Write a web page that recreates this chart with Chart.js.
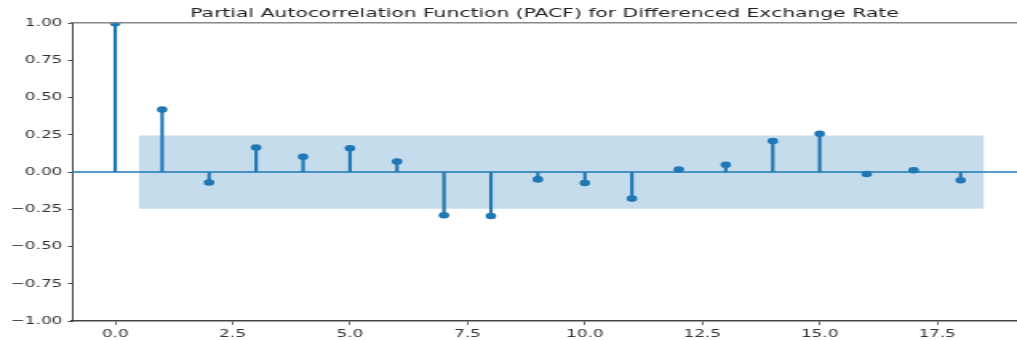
<!DOCTYPE html>
<html>
<head>
<meta charset="utf-8">
<script src="https://cdn.jsdelivr.net/npm/chart.js@4.4.1/dist/chart.umd.min.js"></script>
<style>
  html, body { margin: 0; padding: 0; background: #fff; overflow: hidden; }
  #wrap { width: 1017px; height: 340px; overflow: hidden; }
  /* the reference picture is stretched sideways; draw narrow, then widen */
  #pacf { transform-origin: 0 0; transform: scaleX(1.599); }
</style>
</head>
<body>
<div id="wrap"><canvas id="pacf" width="636" height="340"></canvas></div>
<script>
// ─── DATA ─────────────────────────────────────────────────────
const lags       = [0, 1, 2, 3, 4, 5, 6, 7, 8, 9, 10, 11, 12, 13, 14, 15, 16, 17, 18];
const pacfValues = [1.0, 0.42, -0.07, 0.165, 0.103, 0.16, 0.071, -0.29, -0.295, -0.049,
                    -0.073, -0.178, 0.018, 0.049, 0.209, 0.258, -0.013, 0.013, -0.055];
const bandX      = [0.5, 18.5];
const bandUpper  = [0.246, 0.246];
const bandLower  = [-0.246, -0.246];
const xTicks     = [0, 2.5, 5, 7.5, 10, 12.5, 15, 17.5];
const yTicks     = [-1, -0.75, -0.5, -0.25, 0, 0.25, 0.5, 0.75, 1];
const xRange     = [-0.92, 19.2];

const BLUE = '#1f77b4';
const FONT = "'DejaVu Sans', sans-serif";

const minus = s => s.replace('-', '\u2212');
const noPad = s => { s.paddingLeft = 0; s.paddingRight = 0; };

new Chart(document.getElementById('pacf'), {
    type: 'bar',
    data: {
        datasets: [
            {   // stems
                type: 'bar',
                data: lags.map((l, i) => ({ x: l, y: [0, pacfValues[i]] })),
                backgroundColor: BLUE,
                barThickness: 1.5,
                grouped: false,
                order: 2
            },
            {   // markers
                type: 'line',
                data: lags.map((l, i) => ({ x: l, y: pacfValues[i] })),
                showLine: false,
                pointStyle: 'circle',
                pointRadius: 3.3,
                pointBorderWidth: 0,
                pointBackgroundColor: BLUE,
                order: 1
            },
            {   // zero line
                type: 'line',
                data: xRange.map(x => ({ x: x, y: 0 })),
                borderColor: BLUE,
                borderWidth: 1.5,
                pointRadius: 0,
                order: 3
            },
            {   // confidence band upper
                type: 'line',
                data: bandX.map((x, i) => ({ x: x, y: bandUpper[i] })),
                borderWidth: 0,
                pointRadius: 0,
                fill: '+1',
                backgroundColor: 'rgba(31,119,180,0.26)',
                order: 5
            },
            {   // confidence band lower
                type: 'line',
                data: bandX.map((x, i) => ({ x: x, y: bandLower[i] })),
                borderWidth: 0,
                pointRadius: 0,
                fill: false,
                order: 5
            }
        ]
    },
    options: {
        responsive: false,
        animation: false,
        layout: { padding: 0, autoPadding: false },
        plugins: {
            legend: { display: false },
            tooltip: { enabled: false },
            title: {
                display: true,
                fullSize: false,
                text: 'Partial Autocorrelation Function (PACF) for Differenced Exchange Rate',
                color: '#222',
                font: { family: FONT, size: 12.7, weight: 'normal' },
                padding: { top: 6, bottom: 2 }
            }
        },
        scales: {
            x: {
                type: 'linear',
                min: xRange[0], max: xRange[1],
                offset: false,
                afterBuildTicks: s => { s.ticks = xTicks.map(v => ({ value: v })); },
                afterFit: s => { s.height = 19; noPad(s); },
                grid: { offset: false, drawOnChartArea: false, drawTicks: true, tickLength: 4, color: '#444', lineWidth: 0.8 },
                border: { display: true, color: '#444', width: 1.5 },
                ticks: {
                    color: '#333', padding: 3, maxRotation: 0,
                    font: { family: FONT, size: 10.5 },
                    callback: v => minus(v.toFixed(1))
                }
            },
            x2: {
                type: 'linear', position: 'top',
                min: xRange[0], max: xRange[1],
                afterFit: s => { s.height = 0; noPad(s); },
                grid: { display: false, drawTicks: false },
                border: { display: true, color: '#888', width: 1.5 },
                ticks: { display: false }
            },
            y: {
                type: 'linear',
                min: -1, max: 1,
                afterBuildTicks: s => { s.ticks = yTicks.map(v => ({ value: v })); },
                afterFit: s => { s.width = 45; },
                grid: { drawOnChartArea: false, drawTicks: true, tickLength: 2.5, color: '#444', lineWidth: 1 },
                border: { display: true, color: '#444', width: 1 },
                ticks: {
                    color: '#333', padding: 3.5,
                    font: { family: FONT, size: 10.5 },
                    callback: v => minus(v.toFixed(2))
                }
            }
        }
    }
});
</script>
</body>
</html>
